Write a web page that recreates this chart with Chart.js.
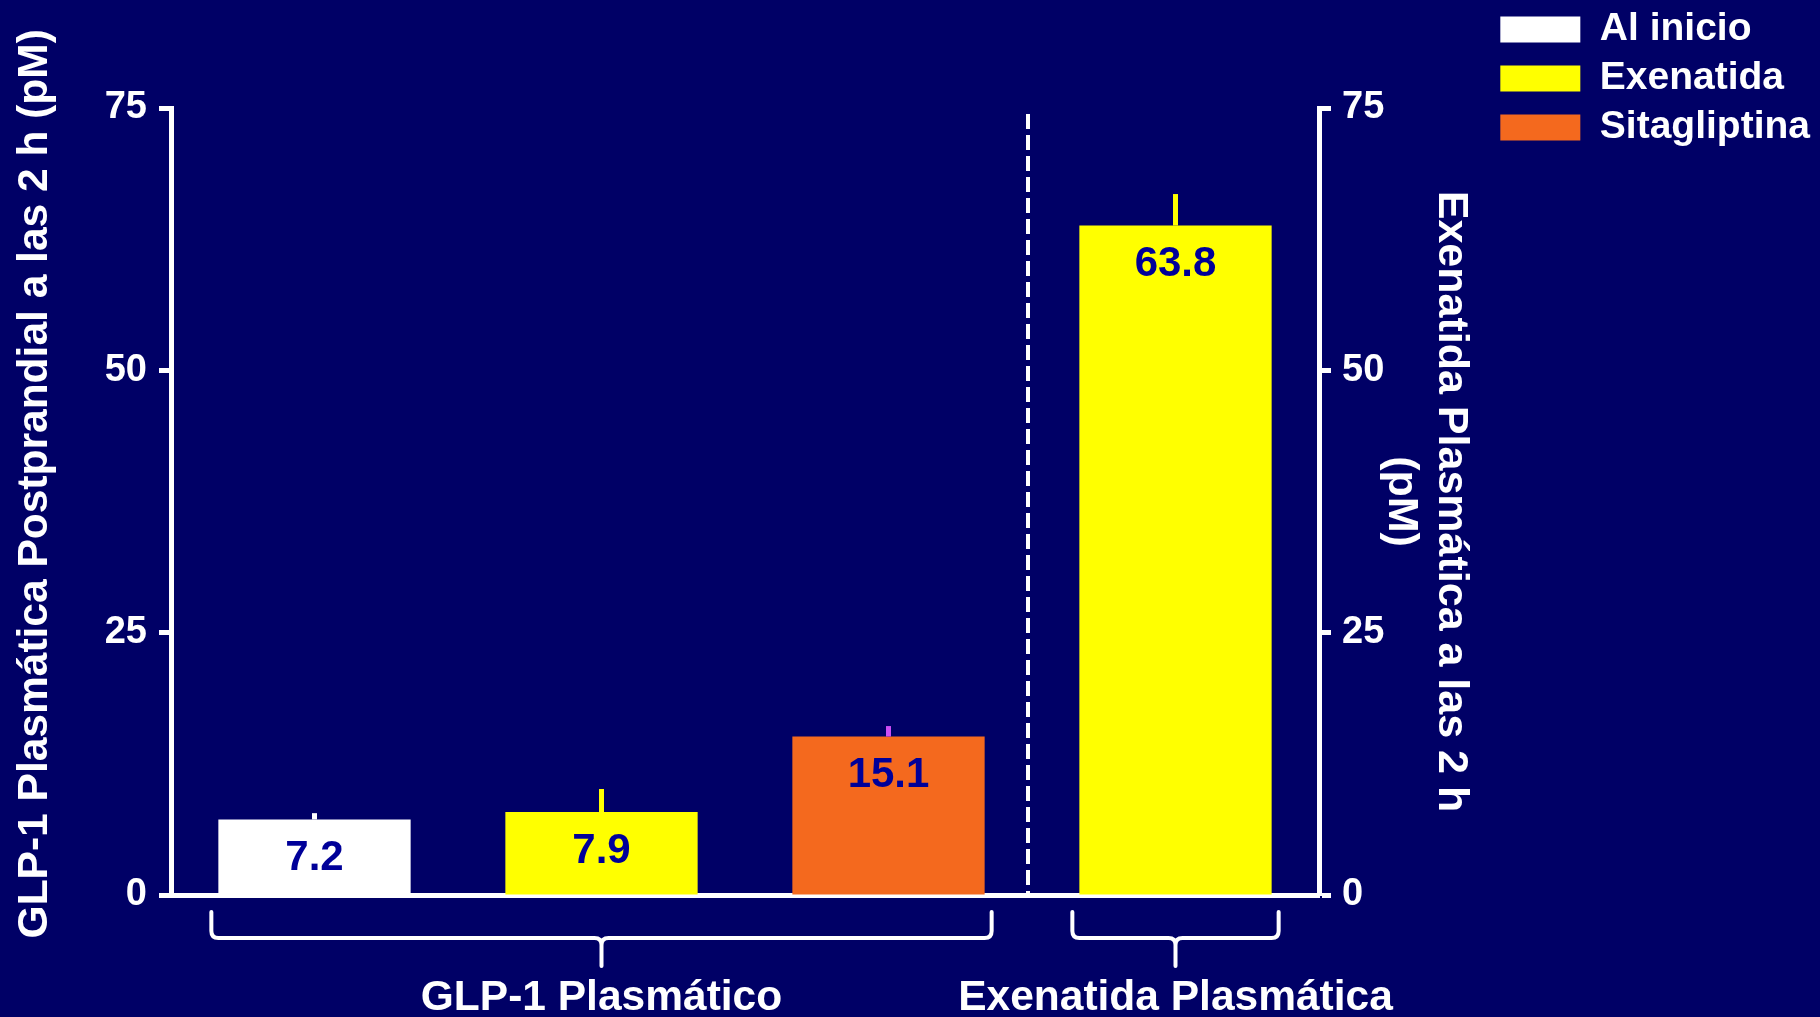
<!DOCTYPE html>
<html lang="es">
<head>
<meta charset="utf-8">
<title>GLP-1 y exenatida plasmáticos a las 2 h</title>
<script src="https://cdn.jsdelivr.net/npm/chart.js@4/dist/chart.umd.min.js"></script>
<style>
  html, body { margin: 0; padding: 0; background: #000066; }
  #chart { display: block; }
</style>
</head>
<body>
<canvas id="chart" width="1820" height="1017"></canvas>
<script>
// ---- data ----
const categories = ['GLP-1 al inicio', 'GLP-1 con exenatida', 'GLP-1 con sitagliptina', 'Exenatida plasmática'];
const xTickLabels = ['', 'GLP-1 Plasmático', '', 'Exenatida Plasmática'];
const seriesNames = ['Al inicio', 'Exenatida', 'Sitagliptina'];

const alInicio        = [7.2, null, null, null];
const exenatida       = [null, 7.9, null, null];
const sitagliptina    = [null, null, 15.1, null];
const exenatidaPlasma = [null, null, null, 63.8];

// upper error (SE) for each bar
const errAlInicio        = [0.6, null, null, null];
const errExenatida       = [null, 2.2, null, null];
const errSitagliptina    = [null, null, 1.0, null];
const errExenatidaPlasma = [null, null, null, 3.0];

const yTicks = [0, 25, 50, 75];
// category index ranges grouped under a brace
const groups = [[0, 2], [3, 3]];

// ---- styling ----
const BG = '#000066';
const WHITE = '#FFFFFF';
const YELLOW = '#FFFF00';
const ORANGE = '#F4691E';
const VALUE_BLUE = '#000099';
const FONT = "'Liberation Sans', Arial, Helvetica, sans-serif";
const BAR_PCT = 0.67;

Chart.defaults.font.family = FONT;
Chart.defaults.font.weight = 'bold';
Chart.defaults.color = WHITE;

const background = {
  id: 'background',
  beforeDraw(chart) {
    const ctx = chart.ctx;
    ctx.save();
    ctx.fillStyle = BG;
    ctx.fillRect(0, 0, chart.width, chart.height);
    ctx.restore();
  }
};

// error whiskers (upper only) and value labels inside bars
const barDecorations = {
  id: 'barDecorations',
  afterDatasetsDraw(chart) {
    const ctx = chart.ctx;
    chart.data.datasets.forEach((ds, di) => {
      const meta = chart.getDatasetMeta(di);
      const yScale = chart.scales[meta.yAxisID];
      meta.data.forEach((bar, i) => {
        const v = ds.data[i];
        if (v === null || v === undefined) return;
        const err = ds.errors[i];
        if (err) {
          ctx.save();
          ctx.strokeStyle = ds.errorColor;
          ctx.lineWidth = 5;
          ctx.beginPath();
          ctx.moveTo(bar.x, bar.y);
          ctx.lineTo(bar.x, yScale.getPixelForValue(v + err));
          ctx.stroke();
          ctx.restore();
        }
        ctx.save();
        ctx.fillStyle = VALUE_BLUE;
        ctx.font = 'bold 42px ' + FONT;
        ctx.textAlign = 'center';
        ctx.textBaseline = 'middle';
        ctx.fillText(v.toFixed(1), bar.x, bar.y + 39);
        ctx.restore();
      });
    });
  }
};

// dashed separator between the two panels and braces under each group
const panelMarks = {
  id: 'panelMarks',
  afterDraw(chart) {
    const ctx = chart.ctx;
    const x = chart.scales.x;
    const area = chart.chartArea;
    const step = x.getPixelForValue(1) - x.getPixelForValue(0);
    const half = step * BAR_PCT / 2;

    // separator, just left of the boundary between the panels
    const sx = (x.getPixelForValue(2) + x.getPixelForValue(3)) / 2 - 4;
    ctx.save();
    ctx.strokeStyle = WHITE;
    ctx.lineWidth = 4;
    ctx.setLineDash([15, 6]);
    ctx.beginPath();
    ctx.moveTo(sx, area.top + 6);
    ctx.lineTo(sx, area.bottom);
    ctx.stroke();
    ctx.restore();

    // braces
    const yTop = area.bottom + 17;
    const yH = area.bottom + 43;
    const yStem = area.bottom + 71;
    const r = 7;
    ctx.save();
    ctx.strokeStyle = WHITE;
    ctx.lineWidth = 4;
    ctx.lineCap = 'round';
    ctx.lineJoin = 'round';
    groups.forEach(([a, b]) => {
      const x0 = x.getPixelForValue(a) - half - 7;
      const x1 = x.getPixelForValue(b) + half + 7;
      const mid = (x0 + x1) / 2;
      ctx.beginPath();
      ctx.moveTo(x0, yTop);
      ctx.lineTo(x0, yH - r);
      ctx.quadraticCurveTo(x0, yH, x0 + r, yH);
      ctx.lineTo(mid - r, yH);
      ctx.quadraticCurveTo(mid, yH, mid, yH + r);
      ctx.lineTo(mid, yStem);
      ctx.moveTo(mid, yH + r);
      ctx.quadraticCurveTo(mid, yH, mid + r, yH);
      ctx.lineTo(x1 - r, yH);
      ctx.quadraticCurveTo(x1, yH, x1, yH - r);
      ctx.lineTo(x1, yTop);
      ctx.stroke();
    });
    ctx.restore();
  }
};

function barSet(label, data, errors, color, errorColor, axis) {
  return {
    label, data, errors, errorColor,
    yAxisID: axis,
    backgroundColor: color,
    borderWidth: 0,
    grouped: false,
    barPercentage: BAR_PCT,
    categoryPercentage: 1.0
  };
}

const yAxisCommon = {
  min: 0,
  max: 75,
  afterBuildTicks(scale) { scale.ticks = yTicks.map(v => ({ value: v })); },
  border: { display: true, color: WHITE, width: 5 },
  grid: {
    display: true,
    drawOnChartArea: false,
    drawTicks: true,
    tickLength: 12,
    tickWidth: 5,
    tickColor: WHITE
  }
};

new Chart(document.getElementById('chart'), {
  type: 'bar',
  data: {
    labels: categories,
    datasets: [
      barSet(seriesNames[0], alInicio, errAlInicio, WHITE, WHITE, 'y'),
      barSet(seriesNames[1], exenatida, errExenatida, YELLOW, YELLOW, 'y'),
      barSet(seriesNames[2], sitagliptina, errSitagliptina, ORANGE, '#CC4DF5', 'y'),
      barSet('Exenatida plasmática', exenatidaPlasma, errExenatidaPlasma, YELLOW, YELLOW, 'y2')
    ]
  },
  options: {
    responsive: false,
    devicePixelRatio: 1,
    animation: false,
    layout: { padding: 0 },
    plugins: {
      tooltip: { enabled: false },
      title: {
        display: true,
        text: '',
        fullSize: false,
        font: { size: 1, lineHeight: 1 },
        padding: { top: 107, bottom: 0 }
      },
      legend: {
        position: 'right',
        align: 'start',
        maxWidth: 330,
        labels: {
          filter: item => item.datasetIndex < 3,
          boxWidth: 80,
          boxHeight: 26,
          padding: 10,
          color: WHITE,
          font: { size: 39, weight: 'bold' }
        }
      }
    },
    scales: {
      x: {
        type: 'category',
        offset: true,
        afterFit(scale) { scale.height = 122; },
        border: { display: true, color: WHITE, width: 5 },
        grid: { display: false, drawTicks: false },
        ticks: {
          autoSkip: false,
          maxRotation: 0,
          minRotation: 0,
          padding: 78,
          color: WHITE,
          font: { size: 42.5, weight: 'bold' },
          callback: (v, i) => xTickLabels[i]
        }
      },
      y: Object.assign({}, yAxisCommon, {
        position: 'left',
        afterFit(scale) { scale.width = 171; },
        ticks: { padding: 12, color: WHITE, font: { size: 38, weight: 'bold' } },
        title: {
          display: true,
          text: '\u00A0\u00A0\u00A0GLP-1 Plasmática Postprandial a las 2 h (pM)',
          color: WHITE,
          font: { size: 42.5, weight: 'bold', lineHeight: 1.2 },
          padding: { top: 10, bottom: 0 }
        }
      }),
      y2: Object.assign({}, yAxisCommon, {
        position: 'right',
        afterFit(scale) {
          const legendW = scale.chart.legend ? scale.chart.legend.width : 330;
          scale.width = Math.max(0, scale.chart.width - legendW - 1319);
        },
        ticks: { padding: 11, color: WHITE, font: { size: 38, weight: 'bold' } },
        title: {
          display: true,
          text: ['Exenatida Plasmática a las 2 h', '(pM)'],
          color: WHITE,
          font: { size: 43, weight: 'bold', lineHeight: 1.17 },
          padding: { top: 14, bottom: 0 }
        }
      })
    }
  },
  plugins: [background, barDecorations, panelMarks]
});
</script>
</body>
</html>
